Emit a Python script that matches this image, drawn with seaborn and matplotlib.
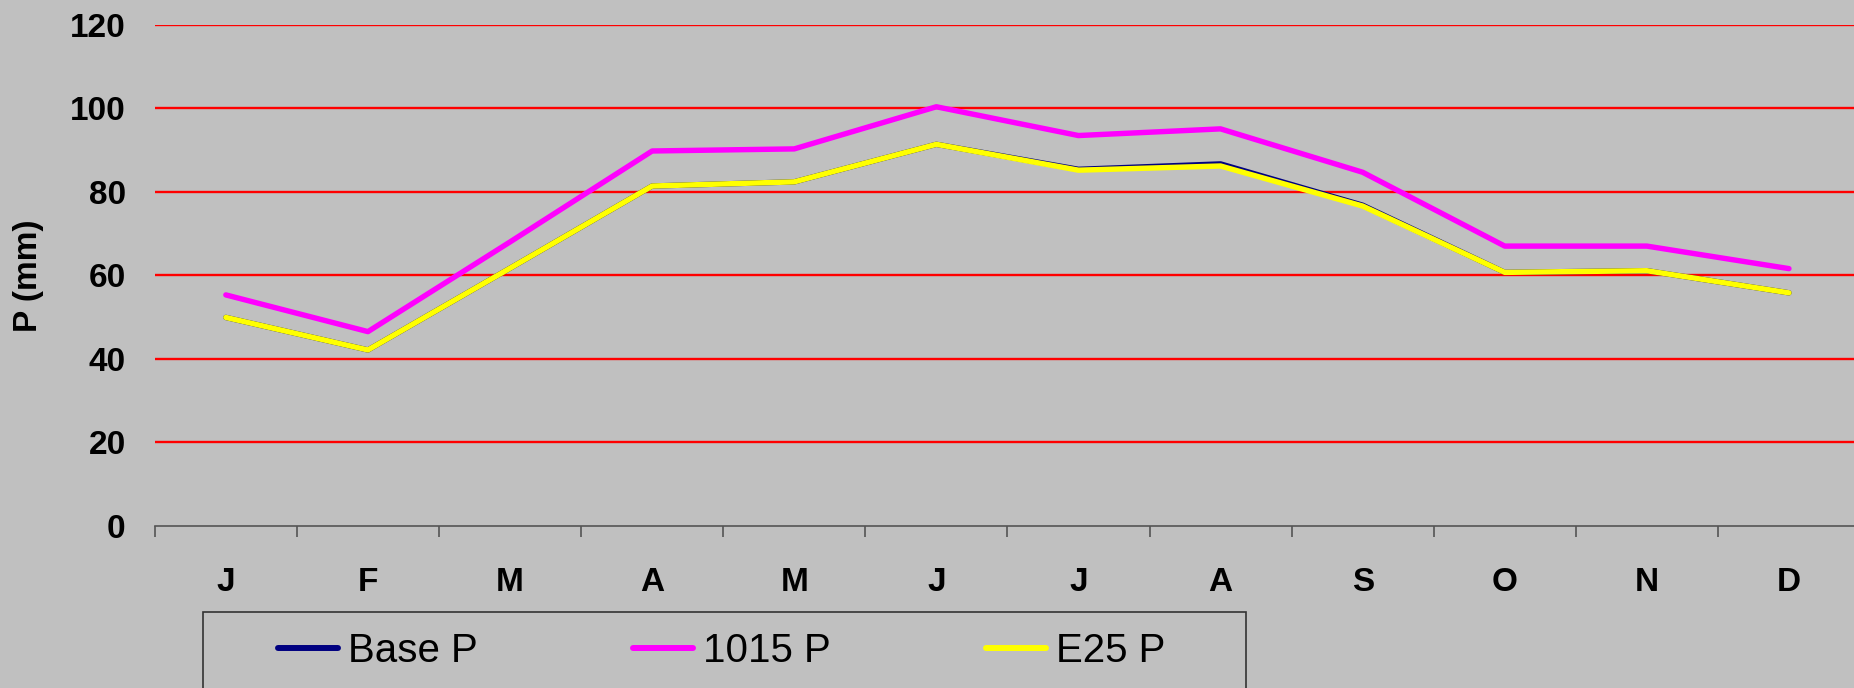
import numpy as np
import pandas as pd
import matplotlib
matplotlib.use("Agg")
import matplotlib.pyplot as plt
from matplotlib.patches import Rectangle
import seaborn as sns

# Dados mensais de precipitação (mm)
months = ["J", "F", "M", "A", "M", "J", "J", "A", "S", "O", "N", "D"]
base_p = [49.9, 42.1, 61.7, 81.4, 82.4, 91.4, 85.4, 86.7, 76.8, 60.7, 61.1, 55.8]
p_1015 = [55.3, 46.5, 68.0, 89.8, 90.3, 100.4, 93.5, 95.1, 84.7, 67.0, 67.0, 61.6]
e25_p = [49.9, 42.1, 61.7, 81.4, 82.4, 91.4, 85.2, 86.2, 76.6, 60.7, 61.1, 55.8]
series_names = ["Base P", "1015 P", "E25 P"]
series_colors = ["#000080", "#FF00FF", "#FFFF00"]
y_ticks = [0, 20, 40, 60, 80, 100, 120]

BG = "#C0C0C0"
W, H = 1854, 688

sns.set_style("white")
plt.rcParams["font.family"] = ["Liberation Sans", "DejaVu Sans"]
plt.rcParams["text.color"] = "black"
plt.rcParams["xtick.color"] = "black"
plt.rcParams["ytick.color"] = "black"
plt.rcParams["axes.labelcolor"] = "black"

# Monta tabela longa para o seaborn
month_idx = np.arange(len(months))
df = pd.DataFrame({
    "mes": np.tile(month_idx, 3),
    "P": base_p + p_1015 + e25_p,
    "serie": np.repeat(series_names, len(months)),
})

fig = plt.figure(figsize=(W / 100, H / 100), dpi=100)
fig.patch.set_facecolor(BG)
left, right, top, bottom = 154.8, 1860.0, 25.0, 525.6
ax = fig.add_axes([left / W, (H - bottom) / H, (right - left) / W, (bottom - top) / H])
ax.set_facecolor(BG)

sns.lineplot(data=df, x="mes", y="P", hue="serie", hue_order=series_names,
             palette=series_colors, linewidth=3.9, estimator=None, sort=False,
             legend=False, ax=ax, solid_capstyle="round", solid_joinstyle="round")

ax.set_xlim(-0.5, len(months) - 0.5)
ax.set_ylim(0, 120)

# Eixo X: rótulos no centro, marcas nas divisas
ax.set_xticks(month_idx)
ax.set_xticklabels(months, fontsize=24, fontweight="bold", color="black")
ax.set_xticks(np.arange(-0.5, len(months), 1), minor=True)
ax.tick_params(axis="x", which="major", length=0, pad=30, bottom=True)
ax.tick_params(axis="x", which="minor", length=8, width=1.2, color="#555555",
               direction="out", bottom=True)

ax.set_yticks(y_ticks)
ax.set_yticklabels([str(v) for v in y_ticks], fontsize=24, fontweight="bold", color="black")
ax.tick_params(axis="y", length=0, pad=21)

ax.set_xlabel("")
ax.set_ylabel("P (mm)", fontsize=24, fontweight="bold", color="black")
ax.yaxis.set_label_coords((44 - left) / (right - left), 0.5)

# Grade vermelha
ax.set_axisbelow(True)
ax.yaxis.grid(True, color="#FF0000", linewidth=1.7)
ax.xaxis.grid(False)
ax.yaxis.get_gridlines()[0].set_visible(False)

for side in ["left", "top", "right"]:
    ax.spines[side].set_visible(False)
ax.spines["bottom"].set_color("#555555")
ax.spines["bottom"].set_linewidth(1.2)

# Legenda
handles = ax.get_lines()[:3]
leg = ax.legend(handles, series_names, ncol=3, frameon=False, loc="center left",
                bbox_to_anchor=(278 / W, 1 - 651 / H), bbox_transform=fig.transFigure,
                fontsize=29, handlelength=1.49, handletextpad=0.25, columnspacing=3.85,
                borderpad=0, borderaxespad=0)
for txt in leg.get_texts():
    txt.set_color("black")
for hl in leg.get_lines():
    hl.set_linewidth(4.3)
fig.add_artist(Rectangle((202.6 / W, -0.05), (1246 - 202.6) / W, (H - 612) / H + 0.05,
                         transform=fig.transFigure, facecolor="none",
                         edgecolor="#333333", linewidth=1.2))

fig.savefig("out.png", dpi=100, facecolor=BG)
